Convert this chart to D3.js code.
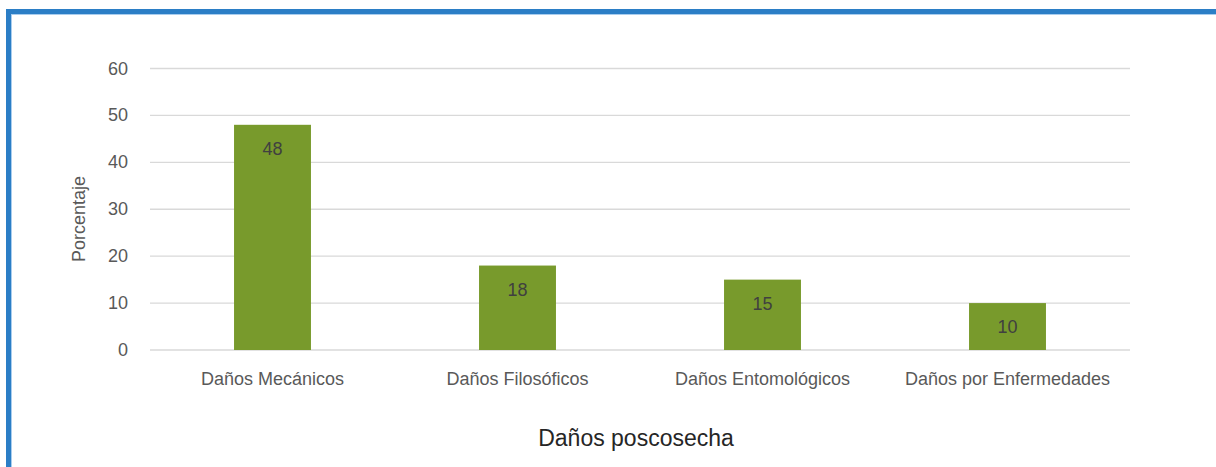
<!DOCTYPE html>
<html>
<head>
<meta charset="utf-8">
<script src="https://cdn.jsdelivr.net/npm/d3@7"></script>
<style>
  html, body { margin: 0; padding: 0; background: #fff; }
  svg { display: block; }
  text { font-family: "Liberation Sans", Arial, Helvetica, sans-serif; }
</style>
</head>
<body>
<svg id="chart" width="1216" height="467"></svg>
<script>
const categories = ["Daños Mecánicos", "Daños Filosóficos", "Daños Entomológicos", "Daños por Enfermedades"];
const values = [48, 18, 15, 10];
const yTicks = [0, 10, 20, 30, 40, 50, 60];
const yTitle = "Porcentaje";
const xTitle = "Daños poscosecha";

const svg = d3.select("#chart");

// frame
svg.append("rect").attr("x", 8.5).attr("y", 11.5).attr("width", 1230).attr("height", 480)
  .attr("fill", "none").attr("stroke", "#2b7ec6").attr("stroke-width", 5);
svg.append("rect").attr("x", 11.5).attr("y", 14.5).attr("width", 1230).attr("height", 480)
  .attr("fill", "none").attr("stroke", "#a9cdee").attr("stroke-width", 1);

const x = d3.scaleBand().domain(categories).range([150, 1130]).paddingInner(0.686).paddingOuter(0.343);
const y = d3.scaleLinear().domain([0, 60]).range([350, 68.5]);

// gridlines
svg.append("g").selectAll("line").data(yTicks).join("line")
  .attr("x1", 150).attr("x2", 1130)
  .attr("y1", d => y(d)).attr("y2", d => y(d))
  .attr("stroke", "#d9d9d9").attr("stroke-width", 1.3);

// y tick labels
svg.append("g").selectAll("text").data(yTicks).join("text")
  .attr("x", 128).attr("y", d => y(d))
  .attr("text-anchor", "end").attr("dominant-baseline", "central")
  .attr("font-size", 18).attr("fill", "#595959")
  .text(d => d);

// bars
svg.append("g").selectAll("rect").data(values).join("rect")
  .attr("x", (d, i) => x(categories[i]))
  .attr("width", x.bandwidth())
  .attr("y", d => y(d))
  .attr("height", d => y(0) - y(d))
  .attr("fill", "#789a2c");

// value labels
svg.append("g").selectAll("text").data(values).join("text")
  .attr("x", (d, i) => x(categories[i]) + x.bandwidth() / 2)
  .attr("y", d => y(d) + 24)
  .attr("text-anchor", "middle").attr("dominant-baseline", "central")
  .attr("font-size", 18).attr("fill", "#404040")
  .text(d => d);

// category labels
svg.append("g").selectAll("text").data(categories).join("text")
  .attr("x", d => x(d) + x.bandwidth() / 2)
  .attr("y", 379)
  .attr("text-anchor", "middle").attr("dominant-baseline", "central")
  .attr("font-size", 18).attr("fill", "#595959")
  .text(d => d);

// axis titles
svg.append("text").attr("x", 636).attr("y", 438)
  .attr("text-anchor", "middle").attr("dominant-baseline", "central")
  .attr("font-size", 23).attr("fill", "#262626").text(xTitle);

svg.append("text").attr("transform", "translate(79,219) rotate(-90)")
  .attr("text-anchor", "middle").attr("dominant-baseline", "central")
  .attr("font-size", 18).attr("fill", "#595959").text(yTitle);
</script>
</body>
</html>
